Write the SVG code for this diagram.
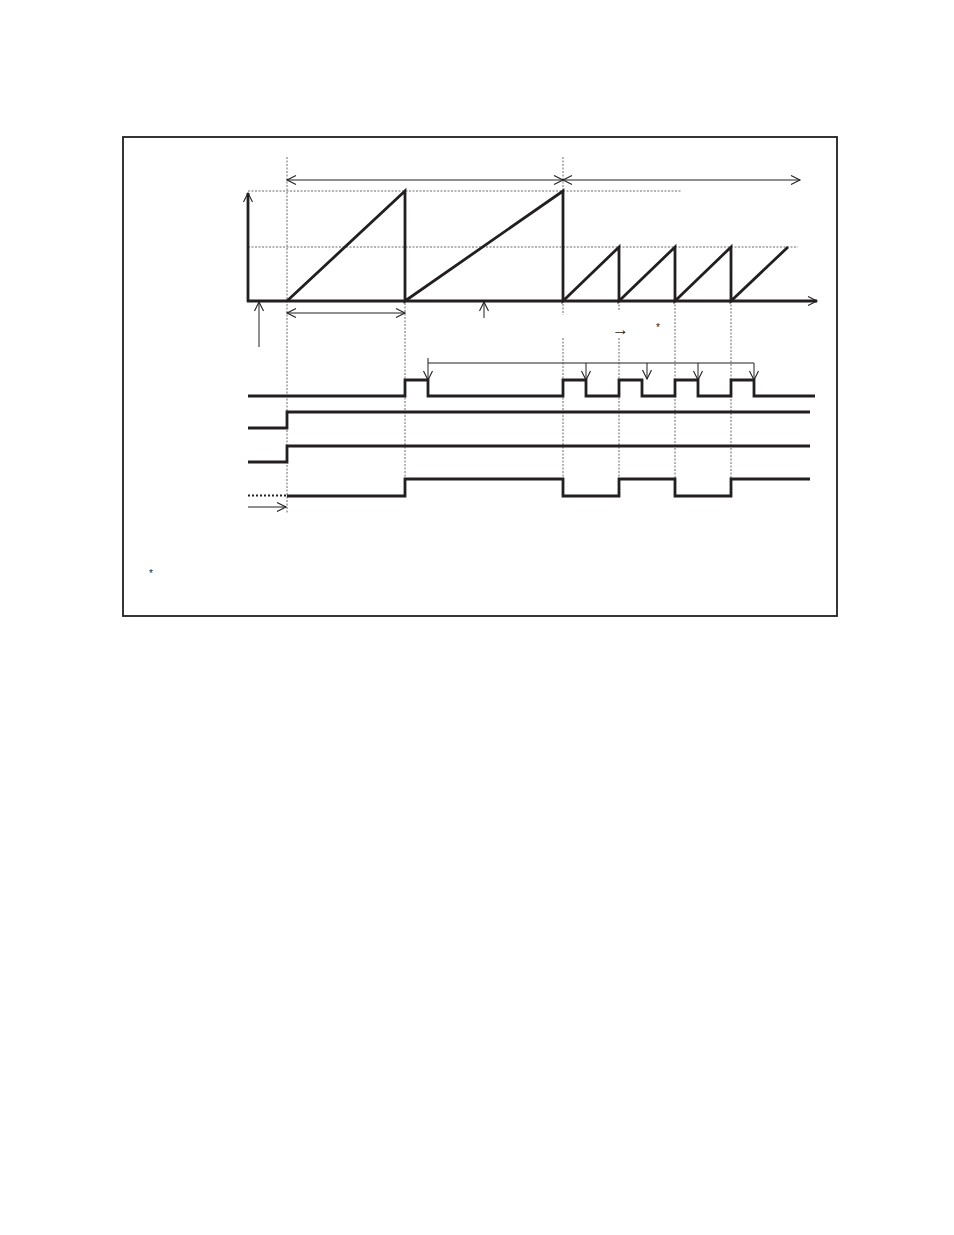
<svg xmlns="http://www.w3.org/2000/svg" width="954" height="1235" viewBox="0 0 954 1235">
<style>
.thick{fill:none;stroke:#231f20;stroke-width:2.8;stroke-linejoin:miter}
.thin{fill:none;stroke:#231f20;stroke-width:1}
.dash{fill:none;stroke:#444;stroke-width:0.8;stroke-dasharray:2,1.5}
.txt{font-family:"Liberation Sans",Arial,sans-serif;fill:#231f20}
</style>
<defs>
<marker id="a" markerUnits="userSpaceOnUse" markerWidth="12" markerHeight="12" refX="10" refY="5" orient="auto-start-reverse" viewBox="0 0 12 10">
<path d="M1,0.5 L10,5 L1,9.5" fill="none" stroke="#231f20" stroke-width="1.1"/>
</marker>
</defs>
<rect width="954" height="1235" fill="#fff"/>
<rect x="123" y="137" width="714" height="479" fill="none" stroke="#231f20" stroke-width="1.8"/>
<g id="guides">
<path class="dash" d="M287,157 V513 M405,191 V497 M563,157 V315 M563,338 V497 M619,301 V311 M619,338 V497 M675,301 V497 M731,301 V497 M248,191 H682 M248,247 H798"/>
</g>
<g id="axes">
<path class="thick" d="M248,302 V193" marker-end="url(#a)"/>
<path class="thick" d="M247,301 H817" marker-end="url(#a)"/>
</g>
<g id="sawtooth">
<path class="thick" d="M287,301 L405,191 V301 L563,191 V301 L619,247 V301 L675,247 V301 L731,247 V301 L788,247"/>
</g>
<g id="connectors">
<path class="thin" d="M287,180 H563" marker-start="url(#a)" marker-end="url(#a)"/>
<path class="thin" d="M563,180 H800" marker-start="url(#a)" marker-end="url(#a)"/>
<path class="thin" d="M287,313 H405" marker-start="url(#a)" marker-end="url(#a)"/>
<path class="thin" d="M259,347 V302" marker-end="url(#a)"/>
<path class="thin" d="M484,318 V302" marker-end="url(#a)"/>
<path class="thin" d="M428,363 H754"/>
<path class="thin" d="M428,358 V380" marker-end="url(#a)"/>
<path class="thin" d="M586,363 V380" marker-end="url(#a)"/>
<path class="thin" d="M647,363 V379" marker-end="url(#a)"/>
<path class="thin" d="M698,363 V380" marker-end="url(#a)"/>
<path class="thin" d="M754,363 V380" marker-end="url(#a)"/>
<path class="thin" d="M248,507 H286" marker-end="url(#a)"/>
</g>
<g id="signal1">
<path class="thick" d="M248,396 H405 V380 H428 V396 H563 V380 H586 V396 H619 V380 H642 V396 H675 V380 H698 V396 H731 V380 H754 V396 H815"/>
</g>
<g id="signal2">
<path class="thick" d="M248,428 H287 V412 H810"/>
</g>
<g id="signal3">
<path class="thick" d="M248,462 H287 V446 H810"/>
</g>
<g id="signal4">
<path d="M248,495.5 H287" fill="none" stroke="#231f20" stroke-width="2.2" stroke-dasharray="2,2"/>
<path class="thick" d="M287,496 H405 V479 H563 V496 H619 V479 H675 V496 H731 V479 H810"/>
</g>
<g id="labels">
<text class="txt" x="612" y="335" font-size="17">→</text>
<text class="txt" x="656" y="331" font-size="10">*</text>
<text class="txt" x="149" y="577" font-size="10">*</text>
</g>
</svg>
